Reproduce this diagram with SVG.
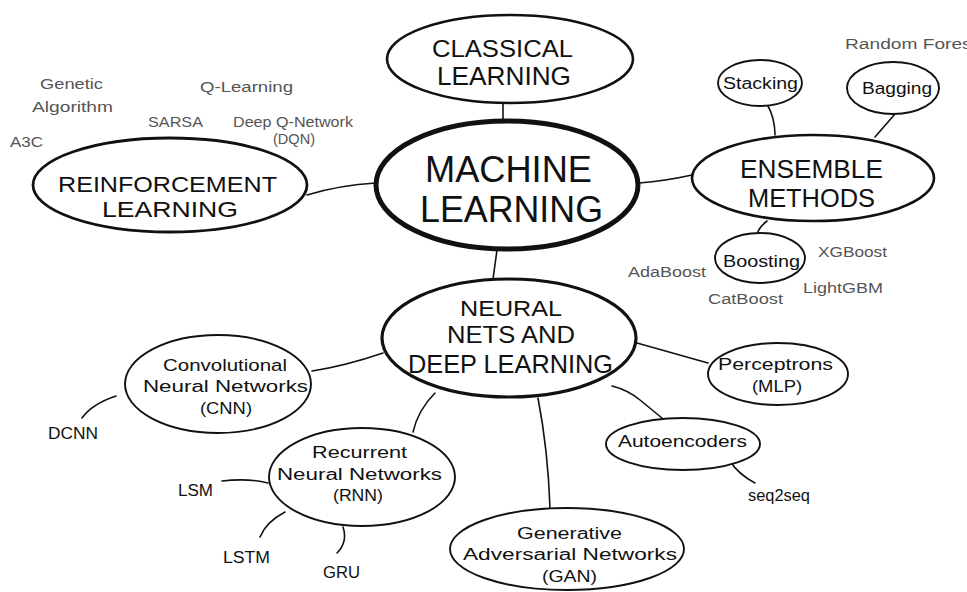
<svg xmlns="http://www.w3.org/2000/svg" width="967" height="592" viewBox="0 0 967 592">
<style>
.n{fill:#fff;stroke:#111;stroke-width:1.9}
.c{fill:none;stroke:#111;stroke-width:1.6;stroke-linecap:round}
.t{font-family:"Liberation Sans",Arial,sans-serif;fill:#111;font-weight:normal}
.m{font-family:"Liberation Sans",Arial,sans-serif;fill:#111;font-size:16px}
.g{font-family:"Liberation Sans",Arial,sans-serif;fill:#555;font-size:14px}
</style>
<rect width="967" height="592" fill="#fff"/>
<g id="connectors">
<path class="c" d="M503 103 L503 121"/>
<path class="c" d="M307 195 Q340 185 376 183"/>
<path class="c" d="M639 183 Q665 181 692 175"/>
<path class="c" d="M767 104 Q775 118 775 135"/>
<path class="c" d="M895 114 L875 137"/>
<path class="c" d="M767 221 Q758 228 757 235"/>
<path class="c" d="M497 250 L493 279"/>
<path class="c" d="M383 353 Q345 366 312 371"/>
<path class="c" d="M116 396 Q92 404 82 418"/>
<path class="c" d="M435 393 Q418 410 413 432"/>
<path class="c" d="M222 481 Q248 478 268 483"/>
<path class="c" d="M285 512 Q266 522 260 537"/>
<path class="c" d="M343 527 Q348 542 337 553"/>
<path class="c" d="M637 343 L708 363"/>
<path class="c" d="M612 386 Q628 390 640 400 L662 418"/>
<path class="c" d="M730 461 Q738 474 755 483"/>
<path class="c" d="M538 398 Q548 450 550 508"/>
</g>
<g id="classical">
<ellipse class="n" cx="510" cy="59" rx="123" ry="44" style="stroke-width:2.6"/>
<text class="t" x="432" y="57" font-size="24" textLength="141" lengthAdjust="spacingAndGlyphs">CLASSICAL</text>
<text class="t" x="437" y="85" font-size="25" textLength="134" lengthAdjust="spacingAndGlyphs">LEARNING</text>
</g>
<g id="machine-learning">
<ellipse class="n" cx="507" cy="185" rx="131" ry="64" style="stroke-width:5"/>
<text class="t" x="425" y="182" font-size="36" textLength="167" lengthAdjust="spacingAndGlyphs">MACHINE</text>
<text class="t" x="420" y="222" font-size="36" textLength="183" lengthAdjust="spacingAndGlyphs">LEARNING</text>
</g>
<g id="reinforcement">
<ellipse class="n" cx="170" cy="185" rx="137" ry="47" style="stroke-width:2.8"/>
<text class="t" x="58" y="192" font-size="22" textLength="219" lengthAdjust="spacingAndGlyphs">REINFORCEMENT</text>
<text class="t" x="102" y="217" font-size="22" textLength="136" lengthAdjust="spacingAndGlyphs">LEARNING</text>
</g>
<g id="rl-labels">
<text class="g" x="40" y="89" textLength="63" lengthAdjust="spacingAndGlyphs">Genetic</text>
<text class="g" x="32" y="112" textLength="81" lengthAdjust="spacingAndGlyphs">Algorithm</text>
<text class="g" x="200" y="92" textLength="93" lengthAdjust="spacingAndGlyphs">Q-Learning</text>
<text class="g" x="148" y="127" textLength="55" lengthAdjust="spacingAndGlyphs">SARSA</text>
<text class="g" x="233" y="127" textLength="120" lengthAdjust="spacingAndGlyphs">Deep Q-Network</text>
<text class="g" x="273" y="144" textLength="42" lengthAdjust="spacingAndGlyphs">(DQN)</text>
<text class="g" x="10" y="147" textLength="33" lengthAdjust="spacingAndGlyphs">A3C</text>
</g>
<g id="ensemble">
<ellipse class="n" cx="813" cy="178" rx="121" ry="43" style="stroke-width:2.6"/>
<text class="t" x="740" y="178" font-size="25" textLength="143" lengthAdjust="spacingAndGlyphs">ENSEMBLE</text>
<text class="t" x="748" y="207" font-size="26" textLength="127" lengthAdjust="spacingAndGlyphs">METHODS</text>
</g>
<g id="stacking">
<ellipse class="n" cx="760" cy="83" rx="42" ry="23"/>
<text class="m" x="723" y="89" textLength="75" lengthAdjust="spacingAndGlyphs">Stacking</text>
</g>
<g id="bagging">
<ellipse class="n" cx="893" cy="88" rx="46" ry="26"/>
<text class="m" x="862" y="94" textLength="70" lengthAdjust="spacingAndGlyphs">Bagging</text>
</g>
<text class="g" x="845" y="49" textLength="132" lengthAdjust="spacingAndGlyphs">Random Forest</text>
<g id="boosting">
<ellipse class="n" cx="760" cy="258" rx="45" ry="25"/>
<text class="m" x="723" y="267" textLength="77" lengthAdjust="spacingAndGlyphs">Boosting</text>
</g>
<g id="boost-labels">
<text class="g" x="818" y="257" textLength="69" lengthAdjust="spacingAndGlyphs">XGBoost</text>
<text class="g" x="628" y="277" textLength="78" lengthAdjust="spacingAndGlyphs">AdaBoost</text>
<text class="g" x="803" y="293" textLength="80" lengthAdjust="spacingAndGlyphs">LightGBM</text>
<text class="g" x="708" y="304" textLength="75" lengthAdjust="spacingAndGlyphs">CatBoost</text>
</g>
<g id="neural-nets">
<ellipse class="n" cx="509" cy="338" rx="127" ry="59" style="stroke-width:3.2"/>
<text class="t" x="460" y="316" font-size="22" textLength="102" lengthAdjust="spacingAndGlyphs">NEURAL</text>
<text class="t" x="447" y="343" font-size="23" textLength="128" lengthAdjust="spacingAndGlyphs">NETS AND</text>
<text class="t" x="408" y="373" font-size="26" textLength="205" lengthAdjust="spacingAndGlyphs">DEEP LEARNING</text>
</g>
<g id="cnn">
<ellipse class="n" cx="218" cy="384" rx="93" ry="49"/>
<text class="m" x="163" y="371" textLength="124" lengthAdjust="spacingAndGlyphs">Convolutional</text>
<text class="m" x="143" y="392" textLength="165" lengthAdjust="spacingAndGlyphs">Neural Networks</text>
<text class="m" x="200" y="414" textLength="52" lengthAdjust="spacingAndGlyphs">(CNN)</text>
</g>
<text class="m" x="48" y="439" font-size="15" textLength="50" lengthAdjust="spacingAndGlyphs">DCNN</text>
<g id="rnn">
<ellipse class="n" cx="362" cy="477" rx="93" ry="49"/>
<text class="m" x="312" y="458" textLength="95" lengthAdjust="spacingAndGlyphs">Recurrent</text>
<text class="m" x="277" y="480" textLength="165" lengthAdjust="spacingAndGlyphs">Neural Networks</text>
<text class="m" x="333" y="501" textLength="50" lengthAdjust="spacingAndGlyphs">(RNN)</text>
</g>
<text class="m" x="178" y="496" font-size="15" textLength="35" lengthAdjust="spacingAndGlyphs">LSM</text>
<text class="m" x="223" y="563" font-size="15" textLength="47" lengthAdjust="spacingAndGlyphs">LSTM</text>
<text class="m" x="323" y="578" font-size="15" textLength="37" lengthAdjust="spacingAndGlyphs">GRU</text>
<g id="mlp">
<ellipse class="n" cx="778" cy="374" rx="70" ry="31"/>
<text class="m" x="718" y="370" textLength="115" lengthAdjust="spacingAndGlyphs">Perceptrons</text>
<text class="m" x="752" y="392" textLength="50" lengthAdjust="spacingAndGlyphs">(MLP)</text>
</g>
<g id="autoencoders">
<ellipse class="n" cx="683" cy="444" rx="77" ry="26"/>
<text class="m" x="618" y="447" textLength="129" lengthAdjust="spacingAndGlyphs">Autoencoders</text>
</g>
<text class="m" x="748" y="501" font-size="13" textLength="62" lengthAdjust="spacingAndGlyphs">seq2seq</text>
<g id="gan">
<ellipse class="n" cx="567" cy="549" rx="117" ry="41"/>
<text class="m" x="517" y="539" textLength="105" lengthAdjust="spacingAndGlyphs">Generative</text>
<text class="m" x="463" y="560" textLength="214" lengthAdjust="spacingAndGlyphs">Adversarial Networks</text>
<text class="m" x="542" y="582" textLength="55" lengthAdjust="spacingAndGlyphs">(GAN)</text>
</g>
</svg>
